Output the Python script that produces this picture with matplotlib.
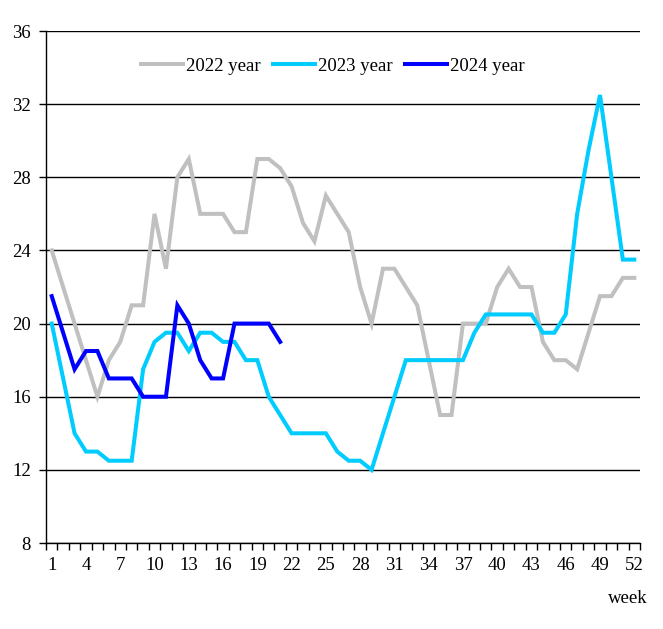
import numpy as np
import matplotlib
matplotlib.use("Agg")
import matplotlib.pyplot as plt
from matplotlib.ticker import FixedLocator

weeks = list(range(1, 53))

y2022 = [24, 22, 20, 18, 16, 18, 19, 21, 21, 26, 23, 28, 29, 26, 26, 26, 25, 25,
         29, 29, 28.5, 27.5, 25.5, 24.5, 27, 26, 25, 22, 20, 23, 23, 22, 21, 18,
         15, 15, 20, 20, 20, 22, 23, 22, 22, 19, 18, 18, 17.5, 19.5, 21.5, 21.5,
         22.5, 22.5]
y2023 = [20, 17, 14, 13, 13, 12.5, 12.5, 12.5, 17.5, 19, 19.5, 19.5, 18.5, 19.5,
         19.5, 19, 19, 18, 18, 16, 15, 14, 14, 14, 14, 13, 12.5, 12.5, 12, 14, 16,
         18, 18, 18, 18, 18, 18, 19.5, 20.5, 20.5, 20.5, 20.5, 20.5, 19.5, 19.5,
         20.5, 26, 29.5, 32.5, 28, 23.5, 23.5]
y2024 = [21.5, 19.5, 17.5, 18.5, 18.5, 17, 17, 17, 16, 16, 16, 21, 20, 18, 17, 17,
         20, 20, 20, 20, 19]

labels = ["2022 year", "2023 year", "2024 year"]
colors = ["#C0C0C0", "#00CCFF", "#0000FF"]

plt.rcParams['font.family'] = ['Liberation Serif', 'DejaVu Serif']
plt.rcParams['font.size'] = 13.5

fig = plt.figure(figsize=(6.63, 6.29), dpi=100)
ax = fig.add_axes([0.0694, 0.1367, 0.8959, 0.814])

for ys, lab, c in zip([y2022, y2023, y2024], labels, colors):
    ax.plot(weeks[:len(ys)], ys, color=c, lw=2.9, label=lab, solid_joinstyle='miter')

ax.set_xlim(0.5, 52.5)
ax.set_ylim(8, 36)
ax.set_yticks(range(8, 37, 4))
ax.yaxis.grid(True, color='black', lw=1)
ax.set_axisbelow(True)

ax.xaxis.set_major_locator(FixedLocator(np.arange(0.5, 53, 1)))
ax.set_xticklabels([])
ax.xaxis.set_minor_locator(FixedLocator(range(1, 53, 3)))
ax.set_xticklabels([str(w) for w in range(1, 53, 3)], minor=True)
ax.tick_params(axis='x', which='major', direction='out', length=5, width=1, color='black')
ax.tick_params(axis='x', which='minor', length=0, pad=10)
ax.tick_params(axis='y', direction='out', length=5, width=1, pad=6)

for s in ['top', 'right']:
    ax.spines[s].set_visible(False)
for s in ['left', 'bottom']:
    ax.spines[s].set_color('black')
    ax.spines[s].set_linewidth(1)

fig.text(0.977, 0.048, "week", ha='right', va='center')

ax.legend(loc='upper center', bbox_to_anchor=(0.483, 0.981), ncol=3, frameon=False,
          handlelength=2.25, handletextpad=0.15, columnspacing=0.65)

fig.savefig("out.png", dpi=100)
